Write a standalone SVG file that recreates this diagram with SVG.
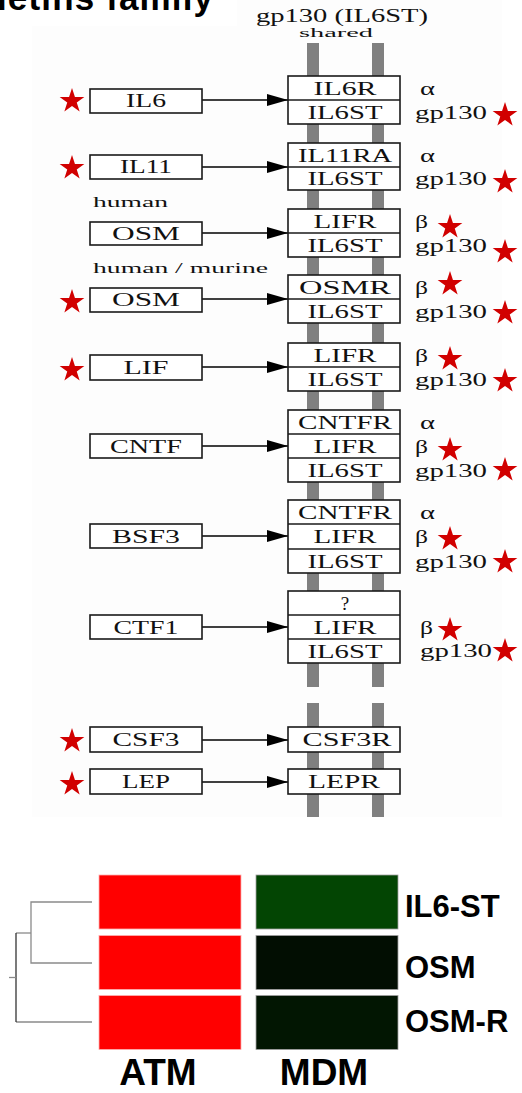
<svg xmlns="http://www.w3.org/2000/svg" xmlns:xlink="http://www.w3.org/1999/xlink" width="522" height="1093" viewBox="0 0 522 1093">
<style>
.t{font-family:"Liberation Serif","Times New Roman",serif;font-size:19px;fill:#111;text-anchor:middle}
.l{font-family:"Liberation Serif","Times New Roman",serif;font-size:19px;fill:#111}
.s{font-family:"Liberation Serif","Times New Roman",serif;font-size:14px;fill:#111}
.box{fill:#fff;stroke:#1a1a1a;stroke-width:1.6}
.div{stroke:#1a1a1a;stroke-width:1.4}
.bar{fill:#808080}
.star{fill:#d10000}
.con{stroke:#000;stroke-width:1.4;fill:none;marker-end:url(#arr)}
.hm{font-family:"Liberation Sans",Arial,sans-serif;font-weight:bold;fill:#000}
.den{stroke:#8a8a8a;stroke-width:1.3;fill:none}
</style>
<defs>
<marker id="arr" viewBox="0 0 21 12" refX="21" refY="6" markerWidth="21" markerHeight="12" markerUnits="userSpaceOnUse" orient="auto">
<path d="M0,0 L21,6 L0,12 Z" fill="#000"/>
</marker>
<path id="star" class="star" d="M0,-13 L2.94,-4.05 L12.36,-4.02 L4.76,1.55 L7.64,10.52 L0,5 L-7.64,10.52 L-4.76,1.55 L-12.36,-4.02 L-2.94,-4.05 Z"/>
</defs>
<rect x="0" y="0" width="522" height="1093" fill="#fff"/>
<rect x="32" y="26" width="470" height="791" fill="#fdfdfd"/>
<rect x="237" y="0" width="265" height="26" fill="#fdfdfd"/>
<text class="hm" x="-3" y="10" font-size="35" textLength="216" lengthAdjust="spacing">ietins family</text>
<g id="header">
<text class="l" font-size="14"><tspan x="256" y="22" textLength="172" lengthAdjust="spacingAndGlyphs">gp130 (IL6ST)</tspan><tspan x="299" y="37" font-size="12.5" textLength="74" lengthAdjust="spacingAndGlyphs">shared</tspan></text>
</g>
<g id="membrane">
<rect class="bar" x="307" y="43" width="12" height="644"/>
<rect class="bar" x="372" y="43" width="12" height="644"/>
<rect class="bar" x="307" y="703" width="12" height="114"/>
<rect class="bar" x="372" y="703" width="12" height="114"/>
</g>
<g id="notes">
<text class="s" x="93" y="207" textLength="75" lengthAdjust="spacingAndGlyphs">human</text>
<text class="s" x="93" y="273" textLength="175" lengthAdjust="spacingAndGlyphs">human / murine</text>
</g>
<g id="connectors">
<line class="con" x1="202" y1="100" x2="288" y2="100"/>
<line class="con" x1="202" y1="167" x2="288" y2="167"/>
<line class="con" x1="202" y1="233" x2="288" y2="233"/>
<line class="con" x1="202" y1="299" x2="288" y2="299"/>
<line class="con" x1="202" y1="367" x2="288" y2="367"/>
<line class="con" x1="202" y1="446" x2="288" y2="446"/>
<line class="con" x1="202" y1="536" x2="288" y2="536"/>
<line class="con" x1="202" y1="627" x2="288" y2="627"/>
<line class="con" x1="202" y1="740" x2="288" y2="740"/>
<line class="con" x1="202" y1="782" x2="288" y2="782"/>
</g>
<g id="ligand-IL6"><rect class="box" x="90" y="89" width="112" height="24"/><text class="t" x="146" y="107" textLength="40" lengthAdjust="spacingAndGlyphs">IL6</text></g>
<g id="ligand-IL11"><rect class="box" x="90" y="155" width="112" height="24"/><text class="t" x="146" y="173" textLength="52" lengthAdjust="spacingAndGlyphs">IL11</text></g>
<g id="ligand-OSM-h"><rect class="box" x="90" y="222" width="112" height="23"/><text class="t" x="146" y="240" textLength="68" lengthAdjust="spacingAndGlyphs">OSM</text></g>
<g id="ligand-OSM-hm"><rect class="box" x="90" y="288" width="112" height="24"/><text class="t" x="146" y="306" textLength="68" lengthAdjust="spacingAndGlyphs">OSM</text></g>
<g id="ligand-LIF"><rect class="box" x="90" y="355" width="112" height="25"/><text class="t" x="146" y="374" textLength="45" lengthAdjust="spacingAndGlyphs">LIF</text></g>
<g id="ligand-CNTF"><rect class="box" x="90" y="434" width="112" height="24"/><text class="t" x="146" y="453" textLength="72" lengthAdjust="spacingAndGlyphs">CNTF</text></g>
<g id="ligand-BSF3"><rect class="box" x="90" y="524" width="112" height="24"/><text class="t" x="146" y="543" textLength="68" lengthAdjust="spacingAndGlyphs">BSF3</text></g>
<g id="ligand-CTF1"><rect class="box" x="90" y="615" width="112" height="24"/><text class="t" x="146" y="634" textLength="65" lengthAdjust="spacingAndGlyphs">CTF1</text></g>
<g id="ligand-CSF3"><rect class="box" x="90" y="727" width="112" height="25"/><text class="t" x="146" y="746" textLength="67" lengthAdjust="spacingAndGlyphs">CSF3</text></g>
<g id="ligand-LEP"><rect class="box" x="90" y="769" width="112" height="25"/><text class="t" x="146" y="788" textLength="48" lengthAdjust="spacingAndGlyphs">LEP</text></g>
<g id="receptor-IL6">
<rect class="box" x="288" y="76" width="112" height="48"/><line class="div" x1="288" y1="100" x2="400" y2="100"/>
<text class="t" x="345" y="95" textLength="63" lengthAdjust="spacingAndGlyphs">IL6R</text>
<text class="t" x="345" y="119" textLength="75" lengthAdjust="spacingAndGlyphs">IL6ST</text>
<text class="l" x="420" y="95" textLength="15" lengthAdjust="spacingAndGlyphs">α</text>
<text class="l" x="415" y="119" textLength="72" lengthAdjust="spacingAndGlyphs">gp130</text>
</g>
<g id="receptor-IL11">
<rect class="box" x="288" y="143" width="112" height="47"/><line class="div" x1="288" y1="167" x2="400" y2="167"/>
<text class="t" x="345" y="162" textLength="94" lengthAdjust="spacingAndGlyphs">IL11RA</text>
<text class="t" x="345" y="185" textLength="75" lengthAdjust="spacingAndGlyphs">IL6ST</text>
<text class="l" x="420" y="162" textLength="15" lengthAdjust="spacingAndGlyphs">α</text>
<text class="l" x="415" y="185" textLength="72" lengthAdjust="spacingAndGlyphs">gp130</text>
</g>
<g id="receptor-OSM-h">
<rect class="box" x="288" y="209" width="112" height="48"/><line class="div" x1="288" y1="233" x2="400" y2="233"/>
<text class="t" x="345" y="228" textLength="63" lengthAdjust="spacingAndGlyphs">LIFR</text>
<text class="t" x="345" y="252" textLength="75" lengthAdjust="spacingAndGlyphs">IL6ST</text>
<text class="l" x="415" y="228" textLength="13" lengthAdjust="spacingAndGlyphs">β</text>
<text class="l" x="415" y="252" textLength="72" lengthAdjust="spacingAndGlyphs">gp130</text>
</g>
<g id="receptor-OSM-hm">
<rect class="box" x="288" y="275" width="112" height="48"/><line class="div" x1="288" y1="299" x2="400" y2="299"/>
<text class="t" x="345" y="294" textLength="92" lengthAdjust="spacingAndGlyphs">OSMR</text>
<text class="t" x="345" y="318" textLength="75" lengthAdjust="spacingAndGlyphs">IL6ST</text>
<text class="l" x="415" y="294" textLength="13" lengthAdjust="spacingAndGlyphs">β</text>
<text class="l" x="415" y="318" textLength="72" lengthAdjust="spacingAndGlyphs">gp130</text>
</g>
<g id="receptor-LIF">
<rect class="box" x="288" y="343" width="112" height="48"/><line class="div" x1="288" y1="367" x2="400" y2="367"/>
<text class="t" x="345" y="362" textLength="63" lengthAdjust="spacingAndGlyphs">LIFR</text>
<text class="t" x="345" y="386" textLength="75" lengthAdjust="spacingAndGlyphs">IL6ST</text>
<text class="l" x="415" y="362" textLength="13" lengthAdjust="spacingAndGlyphs">β</text>
<text class="l" x="415" y="386" textLength="72" lengthAdjust="spacingAndGlyphs">gp130</text>
</g>
<g id="receptor-CNTF">
<rect class="box" x="288" y="410" width="112" height="72"/><line class="div" x1="288" y1="434" x2="400" y2="434"/><line class="div" x1="288" y1="458" x2="400" y2="458"/>
<text class="t" x="345" y="429" textLength="94" lengthAdjust="spacingAndGlyphs">CNTFR</text>
<text class="t" x="345" y="453" textLength="63" lengthAdjust="spacingAndGlyphs">LIFR</text>
<text class="t" x="345" y="477" textLength="75" lengthAdjust="spacingAndGlyphs">IL6ST</text>
<text class="l" x="420" y="429" textLength="15" lengthAdjust="spacingAndGlyphs">α</text>
<text class="l" x="415" y="453" textLength="13" lengthAdjust="spacingAndGlyphs">β</text>
<text class="l" x="415" y="477" textLength="72" lengthAdjust="spacingAndGlyphs">gp130</text>
</g>
<g id="receptor-BSF3">
<rect class="box" x="288" y="500" width="112" height="73"/><line class="div" x1="288" y1="524" x2="400" y2="524"/><line class="div" x1="288" y1="549" x2="400" y2="549"/>
<text class="t" x="345" y="519" textLength="94" lengthAdjust="spacingAndGlyphs">CNTFR</text>
<text class="t" x="345" y="543" textLength="63" lengthAdjust="spacingAndGlyphs">LIFR</text>
<text class="t" x="345" y="568" textLength="75" lengthAdjust="spacingAndGlyphs">IL6ST</text>
<text class="l" x="420" y="519" textLength="15" lengthAdjust="spacingAndGlyphs">α</text>
<text class="l" x="415" y="543" textLength="13" lengthAdjust="spacingAndGlyphs">β</text>
<text class="l" x="415" y="568" textLength="72" lengthAdjust="spacingAndGlyphs">gp130</text>
</g>
<g id="receptor-CTF1">
<rect class="box" x="288" y="591" width="112" height="72"/><line class="div" x1="288" y1="615" x2="400" y2="615"/><line class="div" x1="288" y1="639" x2="400" y2="639"/>
<text class="t" x="345" y="610">?</text>
<text class="t" x="345" y="634" textLength="63" lengthAdjust="spacingAndGlyphs">LIFR</text>
<text class="t" x="345" y="658" textLength="75" lengthAdjust="spacingAndGlyphs">IL6ST</text>
<text class="l" x="420" y="634" textLength="13" lengthAdjust="spacingAndGlyphs">β</text>
<text class="l" x="420" y="657" textLength="72" lengthAdjust="spacingAndGlyphs">gp130</text>
</g>
<g id="receptor-CSF3R">
<rect class="box" x="288" y="727" width="112" height="25"/>
<text class="t" x="347" y="746" textLength="89" lengthAdjust="spacingAndGlyphs">CSF3R</text>
</g>
<g id="receptor-LEPR">
<rect class="box" x="288" y="769" width="112" height="25"/>
<text class="t" x="344" y="788" textLength="72" lengthAdjust="spacingAndGlyphs">LEPR</text>
</g>
<g id="stars">
<use xlink:href="#star" x="72" y="101"/>
<use xlink:href="#star" x="72" y="168"/>
<use xlink:href="#star" x="72" y="302"/>
<use xlink:href="#star" x="72" y="370"/>
<use xlink:href="#star" x="72" y="741"/>
<use xlink:href="#star" x="72" y="784"/>
<use xlink:href="#star" x="450" y="227"/>
<use xlink:href="#star" x="450" y="284"/>
<use xlink:href="#star" x="450" y="359"/>
<use xlink:href="#star" x="450" y="450"/>
<use xlink:href="#star" x="450" y="539"/>
<use xlink:href="#star" x="450" y="630"/>
<use xlink:href="#star" x="505" y="115"/>
<use xlink:href="#star" x="505" y="182"/>
<use xlink:href="#star" x="505" y="252"/>
<use xlink:href="#star" x="505" y="313"/>
<use xlink:href="#star" x="505" y="381"/>
<use xlink:href="#star" x="505" y="470"/>
<use xlink:href="#star" x="505" y="562"/>
<use xlink:href="#star" x="505" y="651"/>
</g>
<g id="heatmap">
<rect x="99" y="875" width="142" height="54" fill="#ff0000" stroke="#ffb0b0" stroke-width="0.8"/>
<rect x="99" y="935.5" width="142" height="54" fill="#ff0000" stroke="#ffb0b0" stroke-width="0.8"/>
<rect x="99" y="995.5" width="142" height="54" fill="#ff0000" stroke="#ffb0b0" stroke-width="0.8"/>
<rect x="256" y="875" width="142" height="54" fill="#034503" stroke="#a0a0a0" stroke-width="0.8"/>
<rect x="256" y="935.5" width="142" height="54" fill="#020e02" stroke="#a0a0a0" stroke-width="0.8"/>
<rect x="256" y="995.5" width="142" height="54" fill="#021602" stroke="#a0a0a0" stroke-width="0.8"/>
</g>
<g id="dendrogram">
<path class="den" d="M92,902 H31 V963 H92"/>
<path class="den" d="M31,933 H16"/>
<path class="den" d="M92,1022 H16"/>
<path d="M16,933 V1022" stroke="#333" stroke-width="1.3" fill="none"/>
<path class="den" d="M9,977.5 H16"/>
</g>
<g id="heatmap-labels">
<text class="hm" x="405" y="917" font-size="31">IL6-ST</text>
<text class="hm" x="405" y="978" font-size="31">OSM</text>
<text class="hm" x="405" y="1032" font-size="31">OSM-R</text>
<text class="hm" x="158" y="1085" font-size="37" text-anchor="middle">ATM</text>
<text class="hm" x="324" y="1085" font-size="37" text-anchor="middle">MDM</text>
</g>
</svg>
